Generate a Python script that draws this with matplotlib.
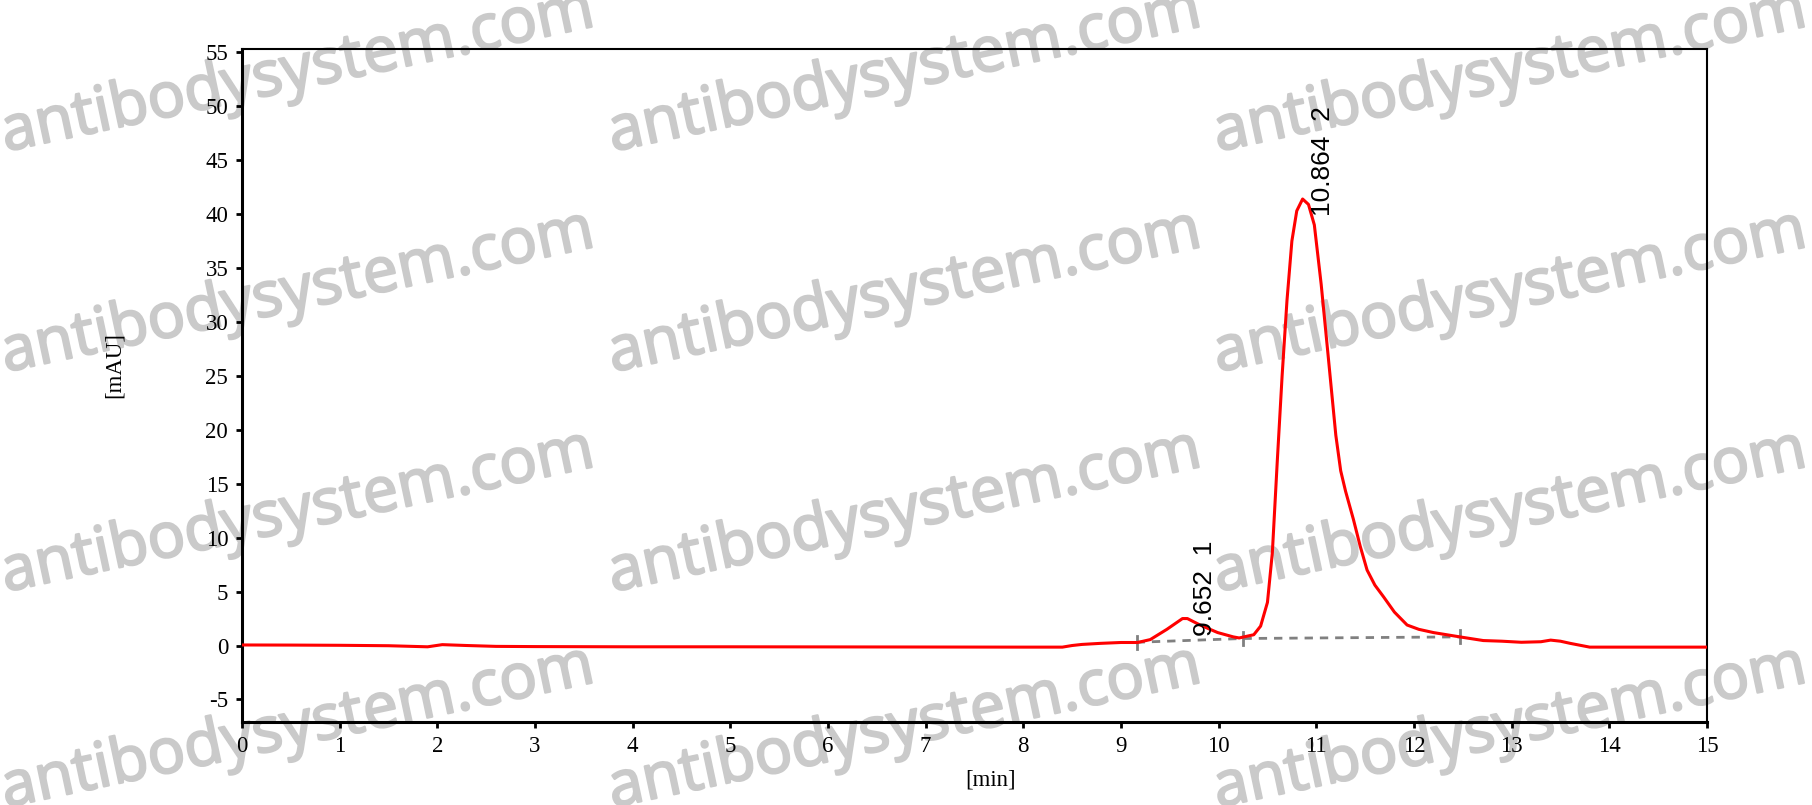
import matplotlib
matplotlib.use("Agg")
from matplotlib import pyplot as plt
from matplotlib import patheffects

plt.rcParams['axes.unicode_minus'] = False

# chromatogram trace (min, mAU)
times = [0.0, 0.5, 1.0, 1.5, 1.9, 2.05, 2.3, 2.6, 3.0, 4.0, 5.0, 6.0, 7.0, 8.0, 8.4,
         8.5, 8.6, 8.79, 9.0, 9.17, 9.3, 9.47, 9.63, 9.68, 9.81, 9.99, 10.15, 10.21,
         10.36, 10.43, 10.5, 10.55, 10.6, 10.65, 10.7, 10.75, 10.8, 10.86, 10.92,
         10.98, 11.05, 11.12, 11.2, 11.25, 11.3, 11.38, 11.45, 11.52, 11.6, 11.69,
         11.8, 11.93, 12.05, 12.2, 12.47, 12.71, 12.9, 13.1, 13.3, 13.4, 13.5, 13.6,
         13.8, 14.0, 15.0]
signal = [0.05, 0.04, 0.02, -0.02, -0.12, 0.08, 0.0, -0.08, -0.1, -0.12, -0.12, -0.13,
          -0.14, -0.15, -0.15, 0.0, 0.1, 0.2, 0.28, 0.28, 0.55, 1.5, 2.5, 2.5, 1.9, 1.2,
          0.8, 0.7, 1.0, 1.8, 4.0, 8.6, 17.0, 25.0, 32.0, 37.5, 40.3, 41.4, 40.9, 39.0,
          33.5, 27.0, 19.5, 16.2, 14.3, 11.7, 9.2, 7.0, 5.6, 4.5, 3.1, 1.9, 1.5, 1.2,
          0.8, 0.46, 0.4, 0.3, 0.35, 0.5, 0.4, 0.2, -0.15, -0.15, -0.15]

# integration baseline
base_t = [9.16, 10.25, 12.47]
base_v = [0.3, 0.65, 0.8]

# peak labels
peak_rt = [9.652, 10.864]
peak_h = [2.5, 41.4]
peak_no = [1, 2]

fig = plt.figure(figsize=(18.12, 8.05), dpi=100)
ax = fig.add_axes([0.1336, 0.103, 0.8084, 0.836])
ax.patch.set_visible(False)

ax.plot(times, signal, c='#ff0000', lw=2.2, zorder=3)
ax.plot(base_t, base_v, c='#808080', lw=2, ls=(0, (3, 2.5)), zorder=2)
for t, v in zip(base_t, base_v):
    ax.plot([t, t], [v - 0.6, v + 0.6], c='#808080', lw=2, zorder=2)

for rt, h, n in zip(peak_rt, peak_h, peak_no):
    ax.annotate(f"{rt:.3f}  {n}", xy=(rt, h), xytext=(8, -17), textcoords='offset pixels',
                rotation=90, ha='left', va='bottom', fontsize=19,
                family='Liberation Sans', zorder=4)

ax.set_xlim(0, 15)
ax.set_ylim(-7.1, 55.3)
ax.set_xticks(range(0, 16))
ax.set_yticks(range(-5, 60, 5))

tick_font = {'family': 'Liberation Serif', 'size': 16.5}
for lab in ax.get_xticklabels() + ax.get_yticklabels():
    lab.set_fontfamily('Liberation Serif')
    lab.set_fontsize(16.5)
ax.tick_params(axis='both', direction='out', length=4, width=2, pad=6)
ax.set_xlabel('[min]', fontdict=tick_font)
ax.set_ylabel('[mAU]', fontdict=tick_font)
ax.xaxis.set_label_coords(0.511, -0.07)
ax.yaxis.set_label_coords(-0.08, 0.53)

for side in ['left', 'bottom']:
    ax.spines[side].set_linewidth(2.2)
for side in ['top', 'right']:
    ax.spines[side].set_linewidth(1.5)

# watermark grid, drawn behind the chart
wm_x = [0.003, 0.338, 0.672]
wm_y = [0.812, 0.538, 0.265, -0.003]
wm_fx = [patheffects.withStroke(linewidth=1.6, foreground='#cacaca')]
for yy in wm_y:
    for xx in wm_x:
        fig.text(xx, yy, 'antibodysystem.com', fontsize=45, family='Open Sans',
                 color='#cacaca', rotation=12, rotation_mode='anchor',
                 ha='left', va='baseline', zorder=-1, path_effects=wm_fx)

fig.savefig('out.png', dpi=100)
